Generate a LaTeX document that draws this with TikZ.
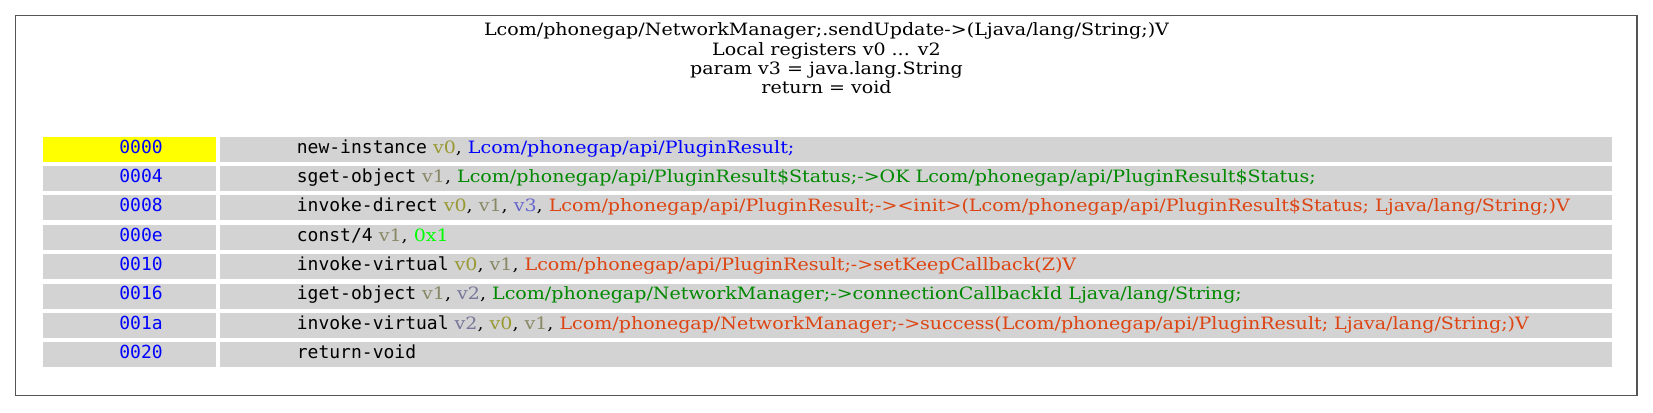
\documentclass[tikz,border=0pt]{standalone}
\usepackage{fontspec}
\setmainfont{DejaVu Serif}[FakeStretch=1.12]
\setmonofont{DejaVu Sans Mono}
\definecolor{addr}{RGB}{0,0,255}
\definecolor{cellbg}{RGB}{211,211,211}
\definecolor{hl}{RGB}{255,255,0}
\definecolor{rv0}{RGB}{153,153,51}
\definecolor{rv1}{RGB}{136,136,102}
\definecolor{rv2}{RGB}{119,119,153}
\definecolor{rv3}{RGB}{102,102,204}
\definecolor{clsblue}{RGB}{0,0,255}
\definecolor{fldgreen}{RGB}{0,136,0}
\definecolor{methred}{RGB}{221,68,17}
\definecolor{litgreen}{RGB}{0,255,0}
\definecolor{frame}{RGB}{85,85,85}
\begin{document}
\begin{tikzpicture}[x=1pt,y=-1pt,
  addrtxt/.style={font=\fontsize{18}{20}\ttfamily, text=addr, anchor=base, inner sep=0pt},
  instxt/.style={font=\fontsize{17}{20}\selectfont, anchor=base west, inner sep=0pt},
  headtxt/.style={font=\fontsize{17}{20}\selectfont, anchor=base, inner sep=0pt}
]
\useasboundingbox (0,0) rectangle (1653,412);
\fill[white] (0,0) rectangle (1653,412);
\draw[frame, line width=1.2pt] (15.7,15.7) rectangle (1637,395.7);
\node[headtxt] (h1) at (826.5,36) {Lcom/phonegap/NetworkManager;.sendUpdate->(Ljava/lang/String;)V};
\node[headtxt] (h2) at (826.5,55.5) {Local registers v0 ... v2};
\node[headtxt] (h3) at (826.5,74.5) {param v3 = java.lang.String};
\node[headtxt] (h4) at (826.5,93) {return = void};
\newcommand{\ttw}[1]{{\fontsize{18}{20}\ttfamily #1}}
\foreach \i/\a/\bg in {0/0000/hl,1/0004/cellbg,2/0008/cellbg,3/000e/cellbg,4/0010/cellbg,5/0016/cellbg,6/001a/cellbg,7/0020/cellbg}{
  \pgfmathsetmacro{\t}{136.7+29.37*\i}
  \fill[\bg] (42.7,\t) rectangle (216,\t+25);
  \fill[cellbg] (220,\t) rectangle (1612,\t+25);
  \node[addrtxt] (a\i) at (141,\t+16.3) {\a};
}
\node[instxt] (i0) at (296.7,136.7+16.3) {\ttw{new-instance} \textcolor{rv0}{v0}, \textcolor{clsblue}{Lcom/phonegap/api/PluginResult;}};
\node[instxt] (i1) at (296.7,166.07+16.3) {\ttw{sget-object} \textcolor{rv1}{v1}, \textcolor{fldgreen}{Lcom/phonegap/api/PluginResult\$Status;->OK Lcom/phonegap/api/PluginResult\$Status;}};
\node[instxt] (i2) at (296.7,195.44+16.3) {\ttw{invoke-direct} \textcolor{rv0}{v0}, \textcolor{rv1}{v1}, \textcolor{rv3}{v3}, \textcolor{methred}{Lcom/phonegap/api/PluginResult;-><init>(Lcom/phonegap/api/PluginResult\$Status; Ljava/lang/String;)V}};
\node[instxt] (i3) at (296.7,224.81+16.3) {\ttw{const/4} \textcolor{rv1}{v1}, \textcolor{litgreen}{0x1}};
\node[instxt] (i4) at (296.7,254.18+16.3) {\ttw{invoke-virtual} \textcolor{rv0}{v0}, \textcolor{rv1}{v1}, \textcolor{methred}{Lcom/phonegap/api/PluginResult;->setKeepCallback(Z)V}};
\node[instxt] (i5) at (296.7,283.55+16.3) {\ttw{iget-object} \textcolor{rv1}{v1}, \textcolor{rv2}{v2}, \textcolor{fldgreen}{Lcom/phonegap/NetworkManager;->connectionCallbackId Ljava/lang/String;}};
\node[instxt] (i6) at (296.7,312.92+16.3) {\ttw{invoke-virtual} \textcolor{rv2}{v2}, \textcolor{rv0}{v0}, \textcolor{rv1}{v1}, \textcolor{methred}{Lcom/phonegap/NetworkManager;->success(Lcom/phonegap/api/PluginResult; Ljava/lang/String;)V}};
\node[instxt] (i7) at (296.7,342.29+16.3) {\ttw{return-void}};
\end{tikzpicture}
\end{document}
